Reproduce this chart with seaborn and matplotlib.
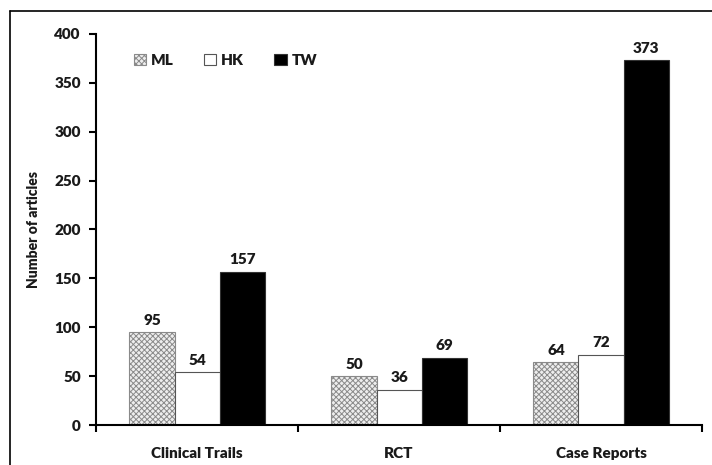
import matplotlib
matplotlib.use("Agg")
import matplotlib.pyplot as plt
import seaborn as sns
import pandas as pd
from matplotlib.lines import Line2D
from matplotlib.patches import Patch

categories = ["Clinical Trails", "RCT", "Case Reports"]
series = ["ML", "HK", "TW"]
ml_values = [95, 50, 64]
hk_values = [54, 36, 72]
tw_values = [157, 69, 373]
y_ticks = [0, 50, 100, 150, 200, 250, 300, 350, 400]

rows = []
for s, vals in zip(series, [ml_values, hk_values, tw_values]):
    for c, v in zip(categories, vals):
        rows.append({"Category": c, "Series": s, "Value": v})
df = pd.DataFrame(rows)

sns.set_theme(style="white")
plt.rcParams["font.family"] = ["Lato", "DejaVu Sans"]
plt.rcParams["hatch.linewidth"] = 0.7

fig = plt.figure(figsize=(7.12, 4.65), dpi=100)
ax = fig.add_axes([0.135, 0.086, 0.851, 0.841])

sns.barplot(data=df, x="Category", y="Value", hue="Series", order=categories,
            hue_order=series, palette=["#dcdcdc", "white", "black"],
            width=0.67, ax=ax, legend=False, saturation=1)

styles = {
    "ML": dict(fc="#eeeeee", ec="#8a8a8a", hatch="xxxxxx"),
    "HK": dict(fc="white", ec="#555555", hatch=None),
    "TW": dict(fc="black", ec="#333333", hatch=None),
}
FS = 11
for s, cont in zip(series, ax.containers):
    st = styles[s]
    for p in cont:
        p.set_facecolor(st["fc"])
        p.set_edgecolor(st["ec"])
        p.set_linewidth(0.8)
        if st["hatch"]:
            p.set_hatch(st["hatch"])
    ax.bar_label(cont, padding=4, fontsize=FS, fontweight="heavy", color="#1a1a1a")

ax.set_ylim(0, 400)
ax.set_yticks(y_ticks)
ax.set_yticklabels([str(t) for t in y_ticks], fontsize=FS, fontweight="heavy", color="#1a1a1a")
ax.set_xlim(-0.5, 2.5)
ax.set_xticks([0, 1, 2])
ax.set_xticklabels(categories, fontsize=FS, fontweight="heavy", color="#1a1a1a")
ax.tick_params(axis="x", length=0, pad=16)
ax.tick_params(axis="y", length=5, width=1.5, direction="out", color="black", left=True, pad=6)
ax.set_xticks([-0.5, 0.5, 1.5, 2.5], minor=True)
ax.tick_params(axis="x", which="minor", length=5, width=1.5, direction="out", color="black", bottom=True)

ax.set_xlabel("")
ax.set_ylabel("Number of articles", fontsize=10, fontweight="heavy", color="#1a1a1a", labelpad=10)

for side in ["top", "right"]:
    ax.spines[side].set_visible(False)
for side in ["left", "bottom"]:
    ax.spines[side].set_color("black")
    ax.spines[side].set_linewidth(1.5)

handles = [Patch(facecolor=styles[s]["fc"], edgecolor=styles[s]["ec"],
                 hatch=styles[s]["hatch"], linewidth=0.8) for s in series]
leg = ax.legend(handles, series, loc="upper left", bbox_to_anchor=(0.04, 0.985), ncol=3,
                frameon=False, handlelength=0.8, handleheight=0.8, handletextpad=0.3,
                columnspacing=2.0, prop={"weight": "heavy", "size": FS})
for t in leg.get_texts():
    t.set_color("#1a1a1a")

fig.add_artist(Line2D([0.0141, 0.0141], [0.0, 0.976], transform=fig.transFigure, color="black", lw=1.2))
fig.add_artist(Line2D([0.0141, 1.0], [0.976, 0.976], transform=fig.transFigure, color="black", lw=1.2))

fig.savefig("out.png", dpi=100)
